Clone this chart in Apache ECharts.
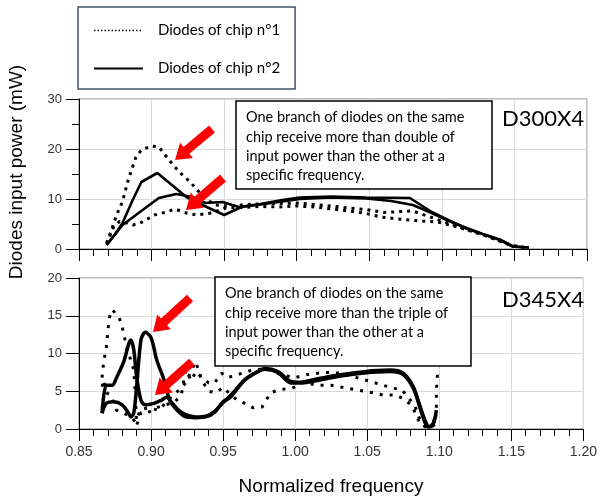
<!DOCTYPE html>
<html>
<head>
<meta charset="utf-8">
<script src="https://cdn.jsdelivr.net/npm/echarts@6/dist/echarts.min.js"></script>
<style>
html, body { margin: 0; padding: 0; background: #fff; }
#main { width: 600px; height: 497px; }
</style>
</head>
<body>
<div id="main"></div>
<script>
// D300X4 panel: [normalized frequency, power mW]
const d300Chip1A = [[0.869,1.2],[0.872,3.5],[0.876,6.9],[0.880,9.5],[0.884,13.9],[0.889,18.2],[0.893,19.8],[0.900,20.6],[0.905,20.4],[0.911,18.2],[0.916,16.4],[0.921,14.9],[0.927,13.3],[0.931,11.9],[0.938,9.9],[0.944,8.8],[0.952,8.6],[0.962,8.8],[0.972,9.0],[0.985,9.1],[1.000,9.2],[1.012,8.9],[1.024,8.6],[1.036,8.2],[1.048,7.9],[1.060,7.3],[1.072,7.5],[1.080,7.6],[1.090,6.6],[1.100,5.6],[1.110,4.6],[1.120,3.6],[1.131,2.6],[1.140,1.6],[1.149,0.6],[1.158,0.3]]
const d300Chip1B = [[0.869,1.0],[0.874,4.5],[0.878,5.5],[0.883,5.2],[0.887,4.8],[0.891,5.0],[0.896,5.8],[0.902,6.8],[0.910,7.4],[0.916,8.0],[0.924,7.2],[0.931,6.8],[0.941,7.2],[0.951,8.2],[0.962,8.3],[0.975,8.5],[0.988,8.4],[1.000,8.6],[1.012,8.4],[1.025,8.0],[1.036,7.6],[1.048,7.1],[1.058,6.4],[1.070,6.0],[1.085,5.6],[1.097,5.4],[1.108,4.6],[1.118,3.8],[1.128,2.9],[1.138,1.8],[1.147,0.8],[1.156,0.3]]
const d300Chip2A = [[0.869,0.8],[0.875,3.0],[0.880,5.2],[0.887,9.8],[0.893,13.4],[0.904,15.2],[0.914,12.8],[0.924,10.4],[0.935,8.8],[0.950,6.8],[0.962,8.4],[0.975,8.9],[0.990,9.5],[1.002,10.0],[1.024,10.3],[1.048,10.1],[1.065,9.6],[1.080,8.8],[1.093,7.2],[1.105,5.6],[1.117,4.2],[1.128,3.0],[1.140,1.8],[1.149,0.5],[1.160,0.3]]
const d300Chip2B = [[0.869,0.8],[0.880,4.8],[0.891,7.2],[0.905,10.2],[0.917,11.0],[0.928,10.4],[0.937,9.2],[0.949,9.4],[0.960,8.4],[0.975,9.0],[0.990,9.8],[1.002,10.3],[1.024,10.5],[1.048,10.3],[1.078,10.2],[1.093,7.4],[1.105,5.7],[1.117,4.1],[1.128,3.0],[1.140,1.9],[1.149,0.5],[1.160,0.3]]

// D345X4 panel
const d345Chip1A = [[0.866,6.8],[0.867,8.7],[0.869,10.9],[0.870,12.9],[0.871,14.7],[0.873,15.8],[0.876,15.2],[0.878,14.7],[0.880,13.5],[0.882,11.8],[0.884,10.2],[0.886,9.1],[0.888,7.8],[0.889,5.0],[0.890,0.5],[0.893,2.2],[0.898,2.2],[0.905,2.9],[0.910,3.2],[0.916,3.5],[0.921,4.5],[0.924,7.8],[0.928,6.4],[0.931,7.6],[0.935,6.9],[0.940,6.1],[0.944,6.1],[0.949,7.4],[0.953,6.8],[0.960,7.2],[0.970,7.8],[0.980,8.0],[0.990,7.2],[1.000,6.8],[1.008,7.2],[1.020,7.5],[1.031,7.4],[1.043,6.8],[1.054,6.2],[1.068,5.4],[1.074,5.2],[1.080,3.8],[1.083,3.1],[1.086,1.5],[1.090,0.3],[1.094,0.2],[1.097,0.6],[1.098,2.5],[1.098,5.0],[1.099,8.0]]
const d345Chip1B = [[0.866,5.6],[0.867,6.5],[0.869,4.8],[0.872,4.5],[0.876,2.5],[0.878,2.3],[0.882,2.0],[0.886,1.6],[0.889,1.0],[0.893,2.6],[0.898,2.8],[0.905,2.5],[0.910,3.4],[0.915,4.5],[0.920,5.2],[0.924,6.1],[0.928,7.8],[0.931,8.9],[0.935,6.5],[0.940,5.0],[0.945,4.8],[0.950,5.5],[0.955,4.6],[0.960,3.8],[0.965,3.4],[0.971,2.8],[0.977,2.9],[0.983,4.8],[0.989,5.2],[0.998,5.4],[1.006,6.2],[1.015,5.8],[1.025,5.8],[1.036,5.4],[1.054,4.8],[1.061,4.5],[1.070,4.5],[1.077,3.8],[1.082,2.8],[1.084,1.6],[1.088,0.5],[1.092,0.2],[1.095,0.5]]
const d345Chip2A = [[0.866,2.1],[0.869,5.8],[0.873,5.8],[0.876,6.8],[0.881,8.9],[0.886,11.8],[0.888,10.5],[0.890,6.9],[0.893,3.8],[0.896,3.2],[0.902,3.4],[0.907,3.8],[0.911,4.2],[0.914,3.6],[0.919,2.5],[0.924,1.9],[0.931,1.6],[0.938,1.7],[0.944,2.3],[0.950,3.5],[0.956,4.6],[0.965,6.5],[0.974,7.6],[0.979,8.0],[0.988,7.6],[0.997,6.3],[1.002,6.2],[1.012,6.5],[1.025,7.0],[1.048,7.6],[1.066,7.8],[1.075,7.4],[1.082,5.6],[1.086,3.4],[1.090,1.2],[1.093,0.3],[1.096,0.8],[1.098,2.5]]
const d345Chip2B = [[0.866,2.1],[0.869,3.4],[0.874,3.6],[0.880,3.2],[0.884,2.2],[0.886,1.6],[0.888,2.1],[0.890,5.6],[0.893,11.8],[0.896,12.8],[0.900,12.1],[0.904,9.1],[0.909,6.5],[0.913,3.8],[0.918,2.5],[0.924,1.6],[0.931,1.5],[0.938,1.6],[0.944,2.2],[0.950,3.6],[0.955,4.2],[0.965,6.5],[0.974,7.6],[0.979,7.9],[0.988,7.5],[0.997,6.1],[1.002,6.1],[1.012,6.3],[1.025,6.8],[1.048,7.4],[1.066,7.6],[1.075,7.2],[1.082,5.4],[1.086,3.2],[1.089,1.4],[1.092,0.3],[1.095,0.4],[1.097,1.5]]

const chip1Name = 'Diodes of chip n°1'
const chip2Name = 'Diodes of chip n°2'
const noteTop = ['One branch of diodes on the same', 'chip receive more than double of', 'input power than the other at a', 'specific frequency.']
const noteBottom = ['One branch of diodes on the same', 'chip receive more than the triple of', 'input power than the other at a', 'specific frequency.']

const chart = echarts.init(document.getElementById('main'))

function xAxisCfg(grid, showLabel) {
  return {
    gridIndex: grid,
    type: 'value',
    min: 0.85,
    max: 1.2,
    interval: 0.05,
    axisLine: { onZero: false, lineStyle: { color: '#000', width: 1 } },
    axisTick: { length: 12, lineStyle: { color: '#000' } },
    minorTick: { show: true, splitNumber: 5, length: 7, lineStyle: { color: '#000' } },
    axisLabel: {
      show: showLabel,
      margin: 16,
      fontSize: 14,
      fontFamily: 'Liberation Sans',
      color: '#333',
      formatter: v => v.toFixed(2)
    },
    splitLine: { show: true, lineStyle: { color: '#d9d9d9' } }
  }
}

function yAxisCfg(grid, max, interval, minor) {
  return {
    gridIndex: grid,
    type: 'value',
    min: 0,
    max: max,
    interval: interval,
    axisLine: { show: true, lineStyle: { color: '#000', width: 1 } },
    axisTick: { show: true, length: 13, lineStyle: { color: '#000' } },
    minorTick: { show: minor, splitNumber: 2, length: 7, lineStyle: { color: '#000' } },
    axisLabel: { margin: 17, fontSize: 13, fontFamily: 'Liberation Sans', color: '#333' },
    splitLine: { show: true, lineStyle: { color: '#d9d9d9' } }
  }
}

function dottedSeries(data, idx, width, dash) {
  return {
    name: chip1Name, type: 'line', xAxisIndex: idx, yAxisIndex: idx, data: data,
    symbol: 'none', silent: true, color: '#000',
    lineStyle: { color: '#000', width: width, type: dash, cap: 'butt' }
  }
}

function solidSeries(data, idx, width, smooth) {
  return {
    name: chip2Name, type: 'line', xAxisIndex: idx, yAxisIndex: idx, data: data,
    symbol: 'none', silent: true, smooth: smooth, color: '#000',
    lineStyle: { color: '#000', width: width, type: 'solid' }
  }
}

// red arrow as a polygon, from tail to tip
function arrow(x1, y1, x2, y2) {
  const dx = x2 - x1, dy = y2 - y1
  const L = Math.hypot(dx, dy)
  const ux = dx / L, uy = dy / L, nx = -uy, ny = ux
  const hl = 15, hw = 10, sw = 4.5
  const bx = x2 - ux * hl, by = y2 - uy * hl
  return {
    type: 'polygon', z: 100,
    shape: { points: [
      [x1 + nx * sw, y1 + ny * sw], [bx + nx * sw, by + ny * sw], [bx + nx * hw, by + ny * hw],
      [x2, y2],
      [bx - nx * hw, by - ny * hw], [bx - nx * sw, by - ny * sw], [x1 - nx * sw, y1 - ny * sw]
    ] },
    style: { fill: '#ff0000' }
  }
}

function noteBox(x, y, w, h, lines) {
  return [
    { type: 'rect', z: 100, shape: { x: x, y: y, width: w, height: h },
      style: { fill: '#fff', stroke: '#000', lineWidth: 1.5 } },
    { type: 'text', z: 101, x: x + 10, y: y + 7,
      style: { text: lines.join('\n'), fill: '#000', fontSize: 14.5, fontFamily: 'Lato', lineHeight: 19.3 } }
  ]
}

const option = {
  backgroundColor: '#fff',
  animation: false,
  grid: [
    { left: 79, top: 99, width: 508, height: 150, show: true, borderColor: '#808080', borderWidth: 1 },
    { left: 79, top: 278, width: 508, height: 151, show: true, borderColor: '#808080', borderWidth: 1 }
  ],
  legend: {
    orient: 'vertical',
    left: 78,
    top: 7,
    padding: [16, 15, 13, 15],
    itemGap: 23,
    itemWidth: 49,
    itemHeight: 14,
    borderColor: '#44546a',
    borderWidth: 1.5,
    backgroundColor: '#fff',
    selectedMode: false,
    itemStyle: { opacity: 0 },
    textStyle: { fontSize: 15, fontFamily: 'Lato', color: '#000', padding: [0, 0, 0, 10] },
    data: [
      { name: chip1Name, lineStyle: { width: 1.5, type: [1.5, 2], color: '#000' } },
      { name: chip2Name, lineStyle: { width: 2, type: 'solid', color: '#000' } }
    ]
  },
  xAxis: [xAxisCfg(0, false), xAxisCfg(1, true)],
  yAxis: [yAxisCfg(0, 30, 10, true), yAxisCfg(1, 20, 5, false)],
  series: [
    dottedSeries(d300Chip1A, 0, 3, [3, 5]),
    dottedSeries(d300Chip1B, 0, 3, [3, 5]),
    solidSeries(d300Chip2A, 0, 2.6, false),
    solidSeries(d300Chip2B, 0, 2.6, false),
    dottedSeries(d345Chip1A, 1, 3, [3, 7]),
    dottedSeries(d345Chip1B, 1, 3, [3, 7]),
    solidSeries(d345Chip2A, 1, 3.5, 0.3),
    solidSeries(d345Chip2B, 1, 3.5, 0.3)
  ],
  graphic: [
    { type: 'text', z: 100, x: 17, y: 172, rotation: Math.PI / 2,
      style: { text: 'Diodes input power (mW)', fontSize: 19, fontFamily: 'Liberation Sans', fill: '#000',
        textAlign: 'center', textVerticalAlign: 'middle' } },
    { type: 'text', z: 100, x: 331, y: 487,
      style: { text: 'Normalized frequency', fontSize: 19, fontFamily: 'Liberation Sans', fill: '#000',
        textAlign: 'center', textVerticalAlign: 'middle' } },
    { type: 'text', z: 100, x: 584, y: 119,
      style: { text: 'D300X4', fontSize: 22, fontFamily: 'Lato', fill: '#000', textAlign: 'right', textVerticalAlign: 'middle' } },
    { type: 'text', z: 100, x: 584, y: 300,
      style: { text: 'D345X4', fontSize: 22, fontFamily: 'Lato', fill: '#000', textAlign: 'right', textVerticalAlign: 'middle' } },
    ...noteBox(236, 101, 256, 88, noteTop),
    ...noteBox(215, 277, 256, 89, noteBottom),
    arrow(212, 129, 175, 160),
    arrow(223, 178, 186, 210),
    arrow(190, 298, 153, 332),
    arrow(192, 362, 155, 395)
  ]
}

chart.setOption(option)
</script>
</body>
</html>
